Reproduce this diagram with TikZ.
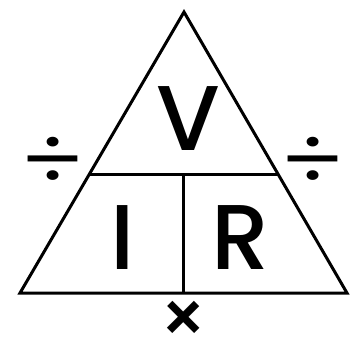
\documentclass[tikz,border=0pt]{standalone}
\usepackage{fontspec}
\setmainfont{Poppins}
\IfFontExistsTF{Poppins Medium}
  {\newfontfamily\letterfont{Poppins Medium}}
  {\IfFontExistsTF{Poppins SemiBold}
    {\newfontfamily\letterfont{Poppins SemiBold}}
    {\newfontfamily\letterfont{Poppins}[FakeBold=2.5]}}
\usetikzlibrary{calc}

\begin{document}
\begin{tikzpicture}[x=1pt, y=-1pt, line width=3pt,
  letter/.style={inner sep=0pt, anchor=base, font=\fontsize{92}{92}\selectfont\letterfont},
  sign/.style={inner sep=0pt, font=\fontsize{78}{78}\selectfont}]
  \useasboundingbox (0,0) rectangle (350,340);

  % Triangle corners
  \coordinate (top) at (184,12);
  \coordinate (left) at (20,293);
  \coordinate (right) at (347,293);
  \coordinate (midL) at ($(top)!0.5765!(left)$);
  \coordinate (midR) at ($(top)!0.5765!(right)$);
  \coordinate (midT) at (183,174);
  \coordinate (midB) at (183,293);

  % Outline and dividers
  \draw (top) -- (left) -- (right) -- cycle;
  \draw (midL) -- (midR);
  \draw (midT) -- (midB);

  % Letters
  \node[letter] (volt) at (188,150) {V};
  \node[letter] (amp) at (123,269) {I};
  \node[letter] (ohm) at (241,269) {R};

  % Operators
  \node[sign] (divL) at (53,162) {\scalebox{1.25}[1]{÷}};
  \node[sign] (divR) at (313,162) {\scalebox{1.25}[1]{÷}};
  \node[sign, font=\fontsize{72}{72}\selectfont\letterfont] (mul) at (184,322) {×};
\end{tikzpicture}
\end{document}
